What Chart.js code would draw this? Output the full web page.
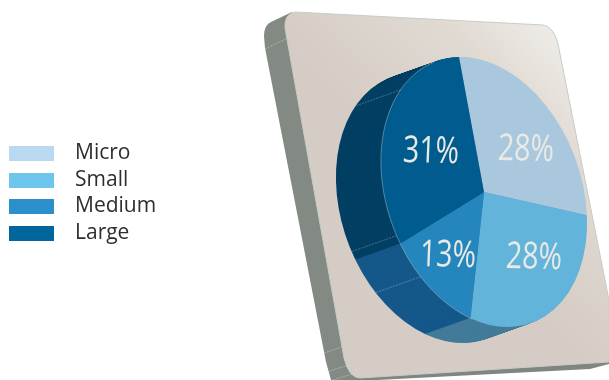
<!DOCTYPE html>
<html>
<head>
<meta charset="utf-8">
<style>html,body{margin:0;padding:0;background:#fff}canvas{display:block}</style>
<script src="https://cdn.jsdelivr.net/npm/chart.js@4/dist/chart.umd.min.js"></script>
</head>
<body>
<canvas id="c" width="609" height="380"></canvas>
<script>
// Share of firms by size class
const categories = ['Micro', 'Small', 'Medium', 'Large'];
const shares = [28, 28, 13, 31];
const sliceColors = ['#A9C8DD', '#62B4DA', '#2585BD', '#005C8F'];
const sideColors = ['#7FA3BA', '#437B9A', '#14588A', '#023F63'];
const legendColors = ['#B8D9EF', '#6EC5EC', '#2A8FCB', '#00669C'];

// Tilted disc: where the unit circle lands on the page
const DISC = { ox: 484, oy: 192, xx: 100, xy: -2, yx: 25, yy: 135 };
const DEPTH = { dx: -45, dy: 16, steps: 48 };
// Percent labels, in slice order
const LABEL_AT = [[526, 150], [534, 258], [448, 256], [431, 152]];
// Faint panel joints on the side wall, in degrees clockwise from the first slice edge
const SIDE_JOINTS = [320, 252, 232];

function discTransform(ctx, arc, shiftX, shiftY) {
  const R = arc.outerRadius;
  const a = DISC.xx / R, b = DISC.xy / R, c = DISC.yx / R, d = DISC.yy / R;
  ctx.transform(a, b, c, d,
    DISC.ox + shiftX - a * arc.x - c * arc.y,
    DISC.oy + shiftY - b * arc.x - d * arc.y);
}

function discPoint(deg) {
  const t = deg * Math.PI / 180, u = Math.sin(t), v = -Math.cos(t);
  return [DISC.ox + DISC.xx * u + DISC.yx * v, DISC.oy + DISC.xy * u + DISC.yy * v];
}

function roundedPath(ctx, pts) {
  ctx.beginPath();
  pts.forEach((p, i) => {
    if (i === 0) ctx.moveTo(p[0], p[1]);
    else if (p.length === 2) ctx.lineTo(p[0], p[1]);
    else ctx.quadraticCurveTo(p[0], p[1], p[2], p[3]);
  });
  ctx.closePath();
}

const plaque = {
  id: 'plaque',
  beforeDraw(chart) {
    const ctx = chart.ctx;
    ctx.save();
    // left wall
    roundedPath(ctx, [[292, 12], [271, 22], [264, 25, 264, 36], [265, 48], [326, 362], [331, 380], [362, 380], [340, 200]]);
    ctx.fillStyle = '#838983';
    ctx.fill();
    // bottom wall
    roundedPath(ctx, [[352, 376], [609, 361], [609, 364], [590, 369], [358, 381]]);
    ctx.fillStyle = '#7F8580';
    ctx.fill();
    // front face
    const g = ctx.createLinearGradient(410, 170, 565, 25);
    g.addColorStop(0, '#D4CCC5');
    g.addColorStop(0.6, '#E1DAD3');
    g.addColorStop(1, '#F0EEEA');
    roundedPath(ctx, [[295, 12], [543, 25], [554, 27, 558, 44], [609, 300], [609, 362], [360, 378], [349, 378, 344, 358], [285, 28], [284, 14, 295, 12]]);
    ctx.fillStyle = g;
    ctx.fill();
    ctx.strokeStyle = '#C6CCC6';
    ctx.lineWidth = 1;
    ctx.stroke();
    // wall joints
    ctx.strokeStyle = 'rgba(235,238,232,0.65)';
    ctx.lineWidth = 0.6;
    ctx.setLineDash([2, 1]);
    [[[265, 49], [286, 39]], [[321, 354], [342, 347]], [[326, 372], [349, 365]], [[333, 380], [352, 374]]].forEach(s => {
      ctx.beginPath();
      ctx.moveTo(s[0][0], s[0][1]);
      ctx.lineTo(s[1][0], s[1][1]);
      ctx.stroke();
    });
    ctx.restore();
  },
  beforeDatasetDraw(chart) {
    const ctx = chart.ctx;
    const arcs = chart.getDatasetMeta(0).data;
    // Side wall: stack the slices from the far end up to the face
    for (let s = DEPTH.steps; s >= 1; s--) {
      const f = s / DEPTH.steps;
      arcs.forEach((arc, i) => {
        ctx.save();
        discTransform(ctx, arc, DEPTH.dx * f, DEPTH.dy * f);
        ctx.beginPath();
        ctx.moveTo(arc.x, arc.y);
        ctx.arc(arc.x, arc.y, arc.outerRadius, arc.startAngle, arc.endAngle);
        ctx.closePath();
        ctx.fillStyle = sideColors[i];
        ctx.fill();
        ctx.restore();
      });
    }
    ctx.save();
    ctx.strokeStyle = 'rgba(225,235,240,0.5)';
    ctx.lineWidth = 0.6;
    ctx.setLineDash([2, 1]);
    SIDE_JOINTS.forEach(deg => {
      const p = discPoint(deg);
      ctx.beginPath();
      ctx.moveTo(p[0], p[1]);
      ctx.lineTo(p[0] + DEPTH.dx, p[1] + DEPTH.dy);
      ctx.stroke();
    });
    ctx.restore();
    ctx.save();
    discTransform(ctx, arcs[0], 0, 0);
  },
  afterDatasetDraw(chart) {
    const ctx = chart.ctx;
    ctx.restore();
    // Light rim where the face meets the visible wall
    ctx.save();
    ctx.strokeStyle = 'rgba(215,228,235,0.55)';
    ctx.lineWidth = 0.7;
    ctx.beginPath();
    for (let d = 201; d <= 345; d += 3) {
      const p = discPoint(d);
      if (d === 201) ctx.moveTo(p[0], p[1]); else ctx.lineTo(p[0], p[1]);
    }
    ctx.stroke();
    ctx.restore();
    // Percent labels, leaning with the disc
    shares.forEach((v, i) => {
      ctx.save();
      ctx.translate(LABEL_AT[i][0], LABEL_AT[i][1]);
      ctx.transform(0.77, 0.015, -0.04, 1, 0, 0);
      ctx.font = '37px "Open Sans"';
      ctx.textAlign = 'center';
      ctx.textBaseline = 'middle';
      ctx.fillStyle = '#E9E9E5';
      ctx.fillText(v + '%', 0, 0);
      ctx.restore();
    });
  },
  afterDraw(chart) {
    const ctx = chart.ctx;
    ctx.save();
    const rows = [146, 173, 199, 226];
    categories.forEach((name, i) => {
      ctx.fillStyle = legendColors[i];
      ctx.fillRect(9, rows[i], 45, 15);
      ctx.fillStyle = '#2E2E2E';
      ctx.font = '21px "Open Sans"';
      ctx.textAlign = 'left';
      ctx.textBaseline = 'middle';
      ctx.fillText(name, 75, rows[i] + 7);
    });
    ctx.restore();
  }
};

new Chart(document.getElementById('c'), {
  type: 'pie',
  data: {
    labels: categories,
    datasets: [{ data: shares, backgroundColor: sliceColors, borderWidth: 0, clip: false }]
  },
  options: {
    responsive: false,
    animation: false,
    events: [],
    rotation: 0,
    plugins: { legend: { display: false }, tooltip: { enabled: false } }
  },
  plugins: [plaque]
});
</script>
</body>
</html>
